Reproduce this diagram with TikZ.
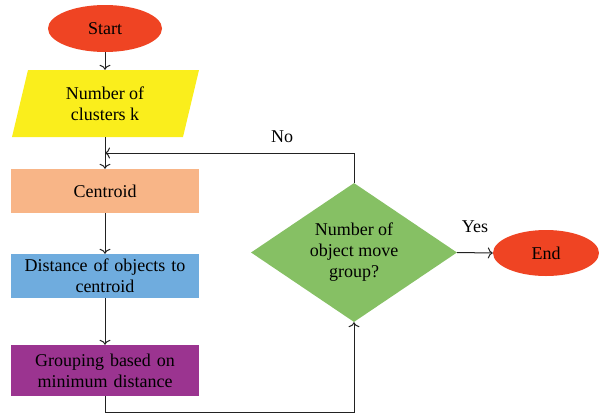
\documentclass[tikz,border=0pt]{standalone}
\usepackage{fontspec}
\setmainfont{Liberation Serif}
\usetikzlibrary{shapes.geometric,arrows.meta}
\definecolor{cred}{HTML}{EF4423}
\definecolor{cyellow}{HTML}{FAEE1C}
\definecolor{cpeach}{HTML}{F8B587}
\definecolor{cblue}{HTML}{6FACDE}
\definecolor{cpurple}{HTML}{9B3490}
\definecolor{cgreen}{HTML}{86C064}
\definecolor{cline}{HTML}{222222}
\begin{document}
\begin{tikzpicture}[x=1pt,y=-1pt,
  every node/.style={font=\fontsize{18}{21}\selectfont, align=center, inner sep=0pt},
  term/.style={ellipse, fill=cred},
  procbox/.style={rectangle, minimum width=188, text width=180},
  conn/.style={draw=cline, line width=1pt, -{To[length=5pt,width=11pt,line width=1pt]}},
  plainline/.style={draw=cline, line width=1pt}]
\useasboundingbox (0,0) rectangle (599,413);
\node[term, minimum width=114, minimum height=47] (start) at (105,28.5) {Start};
\fill[cyellow] (28,70) -- (199,70) -- (183,137) -- (12,137) -- cycle;
\node[minimum width=171, minimum height=67] (k) at (105,103.5) {Number of\\clusters k};
\node[procbox, fill=cpeach, minimum height=44] (c) at (105,191) {Centroid};
\node[procbox, fill=cblue, minimum height=44] (dist) at (105,276) {Distance of objects to\\centroid};
\node[procbox, fill=cpurple, minimum height=51] (g) at (105,370.5) {Grouping based on\\minimum distance};
\node[diamond, fill=cgreen, minimum width=206, minimum height=139, aspect=1.48] (d) at (354,252.5) {Number of\\object move\\group?};
\node[term, minimum width=106, minimum height=46] (e) at (546,253) {End};
\coordinate (j) at (105,153);
\coordinate (b) at (105,412);
\draw[conn] (start.south) -- (k.north);
\draw[conn] (k.south) -- (c.north);
\draw[conn] (c.south) -- (dist.north);
\draw[conn] (dist.south) -- (g.north);
\draw[conn] (g.south) -- (b) -| (d.south);
\draw[conn] (d.north) |- (j);
\draw[conn] (d.east) -- (e.west);
\node (no) at (282,137) {No};
\node (yes) at (475,227) {Yes};
\end{tikzpicture}
\end{document}
